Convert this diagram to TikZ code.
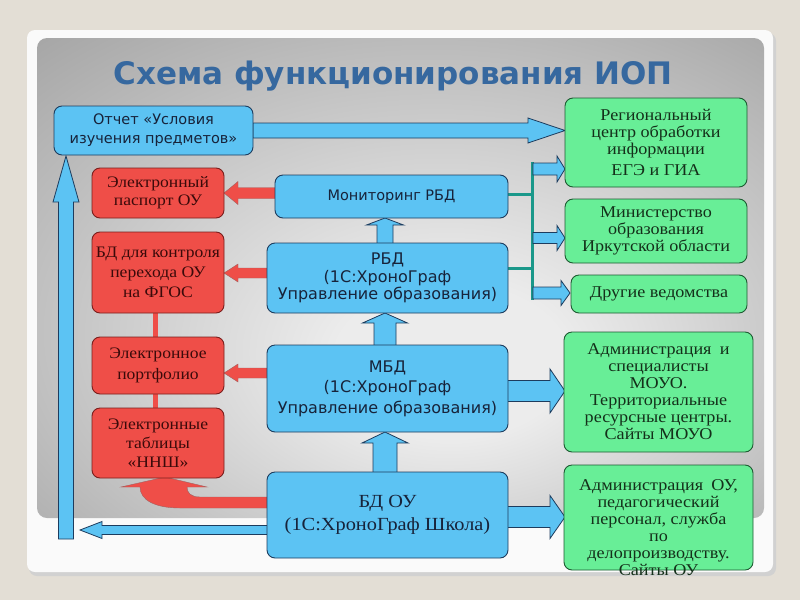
\documentclass[tikz,border=0pt]{standalone}
\usepackage{fontspec}
\newfontfamily\sansf{DejaVu Sans}
\newfontfamily\serw[FakeStretch=1.1]{Liberation Serif}
\usetikzlibrary{calc}
\definecolor{pagebg}{HTML}{E3DED5}
\definecolor{cardbg}{HTML}{FAFAFA}
\definecolor{bfill}{HTML}{5CC3F3}
\definecolor{bline}{HTML}{1D3C5E}
\definecolor{btext}{HTML}{17233A}
\definecolor{rfill}{HTML}{EF4E48}
\definecolor{rline}{HTML}{7A1E1C}
\definecolor{rtext}{HTML}{3B0A0A}
\definecolor{gfill}{HTML}{68EE97}
\definecolor{gline}{HTML}{1E5A32}
\definecolor{gtext}{HTML}{14301A}
\definecolor{tealc}{HTML}{1A988A}
\definecolor{titlec}{HTML}{36689F}
\definecolor{pl}{HTML}{ECECEC}
\definecolor{pd}{HTML}{969696}
\pgfdeclareradialshading{panelshade}{\pgfpoint{4bp}{-10bp}}{color(0bp)=(pl); color(8bp)=(pl); color(46bp)=(pd); color(60bp)=(pd)}
\newcommand\HArr[7]{\path[#1] (#2,{#4-#5}) -- ({#3-#7},{#4-#5}) -- ({#3-#7},{#4-#6}) -- (#3,#4) -- ({#3-#7},{#4+#6}) -- ({#3-#7},{#4+#5}) -- (#2,{#4+#5}) -- cycle;}
\newcommand\VArr[7]{\path[#1] ({#4-#5},#2) -- ({#4-#5},{#3-#7}) -- ({#4-#6},{#3-#7}) -- (#4,#3) -- ({#4+#6},{#3-#7}) -- ({#4+#5},{#3-#7}) -- ({#4+#5},#2) -- cycle;}
\tikzset{
  box/.style={rounded corners=8pt, line width=0.9pt, align=center, inner sep=0pt},
  bluebox/.style={box, draw=bline, fill=bfill, text=btext, font=\sansf\fontsize{16}{17.5}\selectfont},
  redbox/.style={box, draw=rline, fill=rfill, text=rtext, font=\serw\fontsize{16}{20}\selectfont},
  greenbox/.style={box, draw=gline, fill=gfill, text=gtext, font=\serw\fontsize{16.5}{17}\selectfont},
  barrow/.style={fill=bfill, draw=bline, line width=0.8pt, line join=miter},
  rarrow/.style={fill=rfill, draw=rline!70, line width=0.4pt, line join=miter},
  tealline/.style={draw=tealc, line width=3pt},
}
\begin{document}
\begin{tikzpicture}[x=1pt,y=-1pt]
\useasboundingbox (0,0) rectangle (800,600);
% background
\fill[pagebg] (0,0) rectangle (800,600);
\fill[black!18, rounded corners=8pt] (29,33) rectangle (776,576);
\fill[cardbg, rounded corners=8pt] (27,30) rectangle (773,572);
\shade[shading=panelshade, rounded corners=10pt] (37,38) rectangle (764,518);
% title
\node[font=\sansf\bfseries\fontsize{31}{36}\selectfont, text=titlec, anchor=base] (title) at (393,84) {Схема функционирования ИОП};
% coordinates
\coordinate (tj1) at (532,162);
\coordinate (tj2) at (532,300);
% red connectors
\draw[draw=rfill, line width=5pt] (155,312) -- (155,409);
% teal connectors
\draw[tealline] (507,194) -- (532,194);
\draw[tealline] (507,268) -- (532,268);
\draw[tealline] (tj1) -- (tj2);
% branch arrows
\HArr{barrow}{533}{565}{169}{6}{13}{8}
\HArr{barrow}{533}{565}{238}{5.5}{12.5}{8}
\HArr{barrow}{533}{570}{293}{6}{12.5}{9}
% otchet -> region
\HArr{barrow}{253}{565}{130.5}{7.5}{12.5}{37}
% red left arrows
\HArr{rarrow}{276}{224}{193}{5.5}{11.5}{-14}
\HArr{rarrow}{268}{224}{273}{5}{9}{-14}
\HArr{rarrow}{268}{224}{373}{5}{9}{-14}
% right arrows to admin
\HArr{barrow}{507}{565}{391}{10.5}{22}{15}
\HArr{barrow}{507}{565}{517}{10.5}{21.5}{15}
% up arrows
\VArr{barrow}{244}{218}{385}{8}{18.5}{-7}
\VArr{barrow}{346}{313}{385}{11}{22.5}{-10}
\VArr{barrow}{473}{432}{385}{12}{23}{-11}
% bottom left arrow and vertical arrow
\HArr{barrow}{268}{80}{530}{4.5}{8.5}{-22}
\VArr{barrow}{539}{156}{66}{7.5}{13}{-46}
% curved red arrow
\path[rarrow] (268,497) -- (200,497) .. controls (191,497) and (187,493) .. (187,487) -- (207,487) -- (165,477) -- (121,487) -- (140,487) .. controls (140,500) and (155,508) .. (180,508) -- (268,508) -- cycle;
% boxes
\node[bluebox, minimum width=199pt, minimum height=49pt, font=\sansf\fontsize{14.5}{19}\selectfont] (otchet) at (153.5,130.5) {Отчет «Условия\\изучения предметов»};
\node[greenbox, minimum width=182pt, minimum height=89pt] (reg) at (656,142.5) {Региональный\\центр обработки\\информации\\[4pt]ЕГЭ и ГИА};
\node[greenbox, minimum width=182pt, minimum height=64pt] (min) at (656,231) {Министерство\\образования\\Иркутской области};
\node[greenbox, minimum width=176pt, minimum height=38pt] (drug) at (659,294) {Другие ведомства};
\node[greenbox, minimum width=189pt, minimum height=120pt] (adm1) at (658.5,392) {Администрация\enspace и\\специалисты\\МОУО.\\Территориальные\\ресурсные центры.\\Сайты МОУО};
\node[greenbox, minimum width=189pt, minimum height=105pt] (adm2) at (658.5,517.5) {};
\node[align=center, inner sep=0pt, text=gtext, font=\serw\fontsize{16.5}{17}\selectfont] (adm2t) at (658.5,528) {Администрация\enspace ОУ,\\педагогический\\персонал, служба\\по\\делопроизводству.\\Сайты ОУ};
\node[redbox, minimum width=132pt, minimum height=50pt, font=\serw\fontsize{16}{18}\selectfont] (pasp) at (158,193) {Электронный\\паспорт ОУ};
\node[redbox, minimum width=132pt, minimum height=81pt] (ctrl) at (158,272.5) {БД для контроля\\перехода ОУ\\на ФГОС};
\node[redbox, minimum width=132pt, minimum height=57pt, font=\serw\fontsize{16}{21}\selectfont] (port) at (158,365.5) {Электронное\\портфолио};
\node[redbox, minimum width=132pt, minimum height=70pt, font=\serw\fontsize{16}{19}\selectfont] (tabl) at (158,443) {Электронные\\таблицы\\«ННШ»};
\node[bluebox, minimum width=233pt, minimum height=43pt, font=\sansf\fontsize{14.5}{17}\selectfont] (mon) at (391.5,196.5) {Мониторинг РБД};
\node[bluebox, minimum width=241pt, minimum height=70pt] (rbd) at (387.5,278) {РБД\\(1С:ХроноГраф\\Управление образования)};
\node[bluebox, minimum width=241pt, minimum height=87pt, font=\sansf\fontsize{16}{20.5}\selectfont] (mbd) at (387.5,388.5) {МБД\\(1С:ХроноГраф\\Управление образования)};
\node[bluebox, minimum width=241pt, minimum height=86pt, font=\serw\fontsize{18.5}{23}\selectfont] (bdou) at (387.5,515) {БД ОУ\\(1С:ХроноГраф Школа)};
\end{tikzpicture}
\end{document}
